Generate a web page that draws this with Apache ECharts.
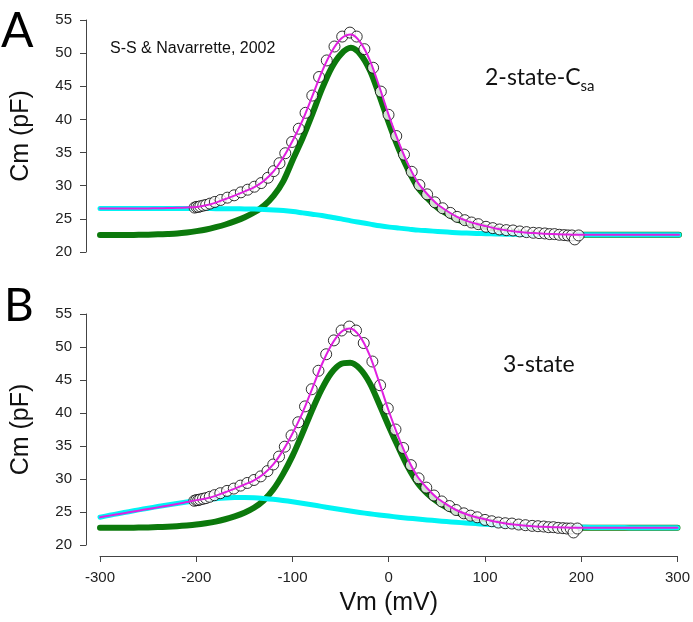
<!DOCTYPE html>
<html><head><meta charset="utf-8">
<script src="https://cdn.jsdelivr.net/npm/echarts@6/dist/echarts.min.js"></script>
<style>html,body{margin:0;padding:0;background:#fff}#c{width:693px;height:622px;position:relative}</style>
</head><body><div id="c"></div>
<script>
// ---- data ----
const xTicks = [-300, -200, -100, 0, 100, 200, 300];
const yTicks = [20, 25, 30, 35, 40, 45, 50, 55];

const vmGrid = [
  -300,-290,-280,-270,-260,-250,-240,-230,-220,-210,
  -200,-190,-180,-170,-160,-150,-140,-130,-120,-110,
  -100,-90,-80,-70,-60,-50,-40,-30,-20,-10,
  0,10,20,30,40,50,60,70,80,90,
  100,110,120,130,140,150,160,170,180,190,
  200,210,220,230,240,250,260,270,280,290,
  300];

// Panel A (2-state-Csa)
const fitA = [
  26.55,26.55,26.55,26.56,26.57,26.58,26.6,26.62,26.66,26.72,
  26.8,27.05,27.45,28.0,28.55,29.15,29.8,30.75,32.2,34.3,
  36.9,39.9,43.5,47.2,50.2,52.2,52.8,51.6,48.8,44.7,
  40.3,36.4,33.0,30.35,28.6,27.15,26.15,25.3,24.7,24.25,
  23.9,23.55,23.3,23.1,22.95,22.85,22.75,22.7,22.65,22.62,
  22.6,22.6,22.6,22.6,22.6,22.6,22.6,22.6,22.6,22.6,
  22.6];
const nlcA = [
  22.55,22.55,22.56,22.57,22.59,22.62,22.66,22.72,22.8,22.95,
  23.15,23.4,23.75,24.15,24.65,25.25,26.0,27.0,28.5,30.7,
  34.0,37.2,40.8,44.6,47.8,49.9,50.8,49.8,47.3,43.4,
  39.2,35.4,32.2,29.6,28.0,26.65,25.75,24.95,24.45,24.05,
  23.75,23.45,23.2,23.03,22.9,22.8,22.72,22.67,22.63,22.6,
  22.6,22.6,22.6,22.6,22.6,22.6,22.6,22.6,22.6,22.6,
  22.6];
const csaA = [
  26.55,26.55,26.55,26.55,26.55,26.55,26.55,26.55,26.55,26.55,
  26.55,26.55,26.54,26.53,26.52,26.5,26.47,26.42,26.35,26.25,
  26.1,25.9,25.7,25.5,25.25,25.0,24.7,24.45,24.2,23.95,
  23.75,23.6,23.45,23.3,23.2,23.1,23.0,22.92,22.85,22.8,
  22.75,22.72,22.68,22.66,22.64,22.63,22.62,22.61,22.6,22.6,
  22.6,22.6,22.6,22.6,22.6,22.6,22.6,22.6,22.6,22.6,
  22.6];

// Panel B (3-state)
const fitB = [
  24.2,24.45,24.7,24.95,25.2,25.45,25.7,25.95,26.2,26.5,
  26.8,27.05,27.45,28.0,28.55,29.15,29.8,30.75,32.2,34.3,
  36.9,39.9,43.5,47.2,50.2,52.2,52.8,51.6,48.8,44.7,
  40.3,36.4,33.0,30.35,28.6,27.15,26.15,25.3,24.7,24.25,
  23.9,23.55,23.3,23.1,22.95,22.85,22.75,22.7,22.65,22.62,
  22.6,22.6,22.6,22.6,22.6,22.6,22.6,22.6,22.6,22.6,
  22.6];
const nlcB = [
  22.6,22.6,22.61,22.62,22.64,22.67,22.71,22.77,22.85,22.96,
  23.1,23.3,23.55,23.9,24.35,24.9,25.65,26.75,28.4,30.7,
  33.5,36.8,40.3,43.5,46.0,47.4,47.6,46.7,44.6,41.4,
  38.0,34.8,31.8,29.4,27.8,26.6,25.7,25.0,24.45,24.05,
  23.7,23.4,23.15,22.98,22.86,22.78,22.72,22.68,22.64,22.62,
  22.6,22.6,22.6,22.6,22.6,22.6,22.6,22.6,22.6,22.6,
  22.6];
const linB = [
  24.2,24.5,24.78,25.05,25.32,25.58,25.83,26.07,26.3,26.52,
  26.72,26.88,27.02,27.12,27.18,27.2,27.15,27.05,26.92,26.75,
  26.55,26.33,26.1,25.85,25.6,25.37,25.15,24.93,24.73,24.55,
  24.38,24.22,24.07,23.93,23.8,23.67,23.55,23.44,23.34,23.24,
  23.15,23.07,23.0,22.94,22.88,22.83,22.79,22.75,22.72,22.7,
  22.68,22.67,22.66,22.65,22.64,22.63,22.62,22.61,22.6,22.6,
  22.6];

// Measured data (same in both panels)
const vmData = [
  -202,-200,-198,-196,-193,-190,-186,-181,-175,-168,
  -161,-154,-147,-140,-133,-126,-120,-114,-108,-101,
  -94,-87,-80,-73,-65,-57,-49,-41,-34,-26,
  -17,-9,-1,7,15,23,31,39,47,55,
  63,70,78,85,92,100,107,114,121,128,
  135,142,149,155,161,166,171,176,181,185,
  189,192,196];
const cmData = [
  26.7,26.8,26.8,26.9,27.0,27.1,27.3,27.55,27.85,28.2,
  28.55,29.0,29.4,29.85,30.4,31.2,32.2,33.4,34.9,36.6,
  38.6,41.0,43.6,46.4,48.9,51.0,52.5,53.1,52.5,50.6,
  47.8,44.2,40.7,37.5,34.7,32.1,30.1,28.7,27.5,26.6,
  25.9,25.3,24.8,24.45,24.2,23.8,23.6,23.4,23.3,23.25,
  23.1,23.0,22.9,22.85,22.8,22.7,22.7,22.6,22.55,22.5,
  22.5,21.9,22.5];

// ---- chart ----
const pairs = (xs, ys) => xs.map((x, i) => [x, ys[i]]);
const GREEN = '#0c790c', CYAN = '#00f4f4', MAG = '#e020e0', AX = '#444';
const FONT = 'Liberation Sans, Arial, sans-serif';
const CAL = 'Lato, sans-serif';
const Y_OFFSET = 14, TICK_LEN = 6;

function yAx(grid) {
  return {
    type: 'value', gridIndex: grid, min: 20, max: 55, interval: 5, offset: Y_OFFSET,
    zlevel: 1,
    name: 'Cm (pF)', nameLocation: 'middle', nameGap: 52,
    nameTextStyle: { fontSize: 25, color: '#111', fontFamily: FONT },
    axisLine: { show: true, onZero: false, lineStyle: { color: AX, width: 1 } },
    axisTick: { show: true, length: TICK_LEN, lineStyle: { color: AX, width: 1 } },
    axisLabel: { fontSize: 15, color: '#222', margin: 14, fontFamily: FONT,
      formatter: v => (yTicks.includes(v) ? String(v) : '') },
    splitLine: { show: false }
  };
}
function lineS(name, xi, yi, ys, color, width, z) {
  return { name, type: 'line', xAxisIndex: xi, yAxisIndex: yi, data: pairs(vmGrid, ys),
    showSymbol: false, smooth: 0.3, z, lineStyle: { color, width, cap: 'round', join: 'round' },
    animation: false };
}
function dataS(xi, yi) {
  return { name: 'data', type: 'scatter', xAxisIndex: xi, yAxisIndex: yi, data: pairs(vmData, cmData),
    symbol: 'circle', symbolSize: 11, z: 4, animation: false,
    itemStyle: { color: '#fff', borderColor: '#000', borderWidth: 1 } };
}

// width of the main part of the "2-state-C" label, so the subscript follows it
let csaW = 94;
try {
  const mctx = document.createElement('canvas').getContext('2d');
  mctx.font = '23px Lato';
  csaW = mctx.measureText('2-state-C').width || csaW;
} catch (e) {}

const textGraphics = [
  { type: 'text', left: 1, top: 8, style: { text: 'A', fontSize: 48, fontFamily: CAL, fill: '#000' } },
  { type: 'text', left: 4, top: 283, style: { text: 'B', fontSize: 46, fontFamily: CAL, fill: '#000' } },
  { type: 'text', left: 110, top: 41, style: { text: 'S-S & Navarrette, 2002', fontSize: 16, fontFamily: FONT, fill: '#111' } },
  { type: 'text', left: 485, top: 66, style: { text: '2-state-C', fontSize: 23, fontFamily: CAL, fill: '#111' } },
  { type: 'text', left: 485 + csaW, top: 79, style: { text: 'sa', fontSize: 15, fontFamily: CAL, fill: '#111' } },
  { type: 'text', left: 503, top: 353, style: { text: '3-state', fontSize: 23, fontFamily: CAL, fill: '#111' } }
];

const option = {
  backgroundColor: '#fff',
  animation: false,
  grid: [
    { left: 100, right: 14, top: 20, height: 232 },
    { left: 100, right: 14, top: 314, height: 231 }
  ],
  xAxis: [
    { type: 'value', gridIndex: 0, min: -300, max: 300, interval: 100, show: false },
    { type: 'value', gridIndex: 1, min: -300, max: 300, interval: 100, offset: 11,
      name: 'Vm (mV)', nameLocation: 'middle', nameGap: 35,
      nameTextStyle: { fontSize: 25, color: '#111', fontFamily: FONT },
      axisLine: { show: true, onZero: false, lineStyle: { color: AX, width: 1 } },
      axisTick: { show: true, length: TICK_LEN, lineStyle: { color: AX } },
      axisLabel: { fontSize: 15, color: '#222', margin: 14, fontFamily: FONT,
        formatter: v => (xTicks.includes(v) ? String(v) : '') },
      splitLine: { show: false } }
  ],
  yAxis: [yAx(0), yAx(1)],
  series: [
    lineS('nlcA', 0, 0, nlcA, GREEN, 6, 2),
    lineS('csaA', 0, 0, csaA, CYAN, 5, 3),
    dataS(0, 0),
    lineS('fitA', 0, 0, fitA, MAG, 2, 5),
    lineS('nlcB', 1, 1, nlcB, GREEN, 6, 2),
    lineS('linB', 1, 1, linB, CYAN, 5, 3),
    dataS(1, 1),
    lineS('fitB', 1, 1, fitB, MAG, 2, 5)
  ],
  graphic: textGraphics
};
const chart = echarts.init(document.getElementById('c'));
chart.setOption(option);

// ---- make sure the y-axis spines really appear (fallback drawn from the library's scales) ----
function spineX() {
  return Math.round(chart.convertToPixel({ xAxisIndex: 1 }, xTicks[0])) - Y_OFFSET;
}
function spineVisible(gi) {
  try {
    chart.getZr().refreshImmediately();
    const x = spineX();
    const y = Math.round(chart.convertToPixel({ yAxisIndex: gi }, 37.5));
    const canvases = document.querySelectorAll('#c canvas');
    for (const cv of canvases) {
      const d = cv.getContext('2d').getImageData(x - 1, y, 3, 1).data;
      for (let i = 0; i < d.length; i += 4) {
        if (d[i + 3] > 100 && d[i] < 170 && d[i + 1] < 170 && d[i + 2] < 170) return true;
      }
    }
    return false;
  } catch (e) { return true; }
}
function ySpine(gi) {
  const x = spineX() + 0.5;
  const yTop = chart.convertToPixel({ yAxisIndex: gi }, yTicks[yTicks.length - 1]);
  const yBot = chart.convertToPixel({ yAxisIndex: gi }, yTicks[0]);
  const els = [{ type: 'line', silent: true, zlevel: 2, z: 100,
    shape: { x1: x, y1: yTop, x2: x, y2: yBot }, style: { stroke: AX, lineWidth: 1 } }];
  yTicks.forEach(v => {
    const y = Math.round(chart.convertToPixel({ yAxisIndex: gi }, v)) + 0.5;
    els.push({ type: 'line', silent: true, zlevel: 2, z: 100,
      shape: { x1: x - TICK_LEN, y1: y, x2: x, y2: y }, style: { stroke: AX, lineWidth: 1 } });
  });
  return els;
}
try {
  const extra = [];
  [0, 1].forEach(gi => { if (!spineVisible(gi)) extra.push(...ySpine(gi)); });
  if (extra.length) chart.setOption({ graphic: textGraphics.concat(extra) });
} catch (e) {}
</script></body></html>
